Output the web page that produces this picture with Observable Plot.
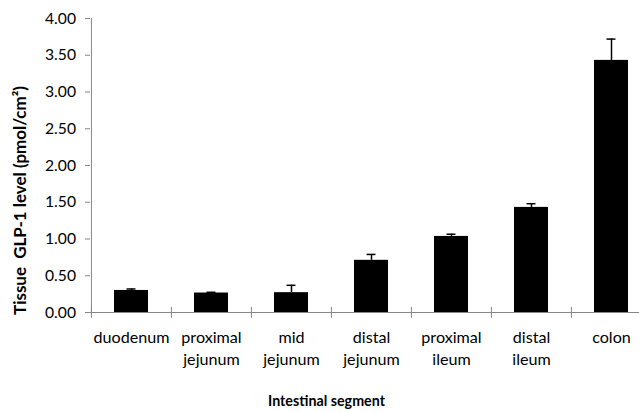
<!DOCTYPE html>
<html>
<head>
<meta charset="utf-8">
<script src="https://cdn.jsdelivr.net/npm/d3@7"></script>
<script src="https://cdn.jsdelivr.net/npm/@observablehq/plot@0.6"></script>
<style>
  html, body { margin: 0; padding: 0; background: #fff; }
  #chart svg { display: block; }
</style>
</head>
<body>
<div id="chart"></div>
<script>
const categories = ["duodenum", "proximal jejunum", "mid jejunum", "distal jejunum", "proximal ileum", "distal ileum", "colon"];
const tickLabels = ["duodenum", "proximal\njejunum", "mid\njejunum", "distal\njejunum", "proximal\nileum", "distal\nileum", "colon"];
const values = [0.30, 0.265, 0.27, 0.71, 1.035, 1.43, 3.43];
const errors = [0.02, 0.01, 0.10, 0.08, 0.03, 0.05, 0.29];
const yTicks = [0, 0.5, 1, 1.5, 2, 2.5, 3, 3.5, 4];
const yTitle = "Tissue\u00a0 GLP-1 level (pmol/cm²)";
const xTitle = "Intestinal segment";

const data = categories.map((c, i) => ({cat: c, label: tickLabels[i], value: values[i], err: errors[i], top: values[i] + errors[i]}));

const W = 639, H = 412;
const mL = 90, mT = 18, mB = 100;
const xRange = [90, 651];
const padIn = 0.575;
const step = (xRange[1] - xRange[0]) / categories.length;
const bw = step * (1 - padIn);
const axisColor = "#868686";
const font = "Lato, 'Open Sans', sans-serif";

// pick font sizes so text widths match the reference
const ctx = document.createElement("canvas").getContext("2d");
function sizeFor(text, target, weight) {
  ctx.font = `${weight} 100px ${font}`;
  return target / ctx.measureText(text).width * 100;
}
const tickSize = sizeFor("duodenum", 76, "normal");
const ySize = sizeFor("4.00", 31, "normal");
const xTitleSize = sizeFor(xTitle, 117, "bold");
const yTitleSize = sizeFor(yTitle, 229, "bold");

const plot = Plot.plot({
  width: W,
  height: H,
  marginLeft: mL,
  marginTop: mT,
  marginBottom: mB,
  marginRight: 0,
  style: {fontFamily: font, fontSize: "14px", color: "#000", background: "#fff", overflow: "hidden"},
  x: {domain: categories, range: xRange, paddingInner: padIn, paddingOuter: padIn / 2, axis: null},
  y: {domain: [0, 4], axis: null},
  marks: [
    Plot.barY(data, {x: "cat", y: "value", fill: "#000"}),
    Plot.ruleX(data, {x: "cat", y1: "value", y2: "top", stroke: "#000", strokeWidth: 1.5}),
    Plot.tickY(data, {x: "cat", y: "top", stroke: "#000", strokeWidth: 1.5, insetLeft: (bw - 9) / 2, insetRight: (bw - 9) / 2}),
    // baseline and y axis line
    Plot.ruleY([0], {stroke: axisColor, strokeWidth: 1}),
    Plot.ruleX([categories[0]], {y1: 0, y2: 4, dx: -step / 2, stroke: axisColor, strokeWidth: 1}),
    // category boundary ticks
    Plot.ruleX(categories, {x: d => d, y1: -0.08, y2: 0.07, dx: -step / 2, stroke: axisColor, strokeWidth: 1}),
    Plot.ruleX([categories[categories.length - 1]], {y1: -0.08, y2: 0.07, dx: step / 2, stroke: axisColor, strokeWidth: 1}),
    // y axis
    Plot.axisY({ticks: yTicks, tickFormat: d3.format(".2f"), tickSize: 5, tickPadding: 9.5, stroke: axisColor, label: null, fontSize: ySize, fill: "#000"}),
    // x tick labels
    Plot.text(data, {x: "cat", text: "label", frameAnchor: "bottom", dy: 15, lineAnchor: "top", textAnchor: "middle", lineHeight: 22 / tickSize, fontSize: tickSize, fill: "#000"}),
    // axis titles
    Plot.text([yTitle], {frameAnchor: "left", textAnchor: "middle", dx: -69.5, dy: 35, rotate: -90, fontWeight: "bold", fontSize: yTitleSize, fill: "#000"}),
    Plot.text([xTitle], {frameAnchor: "bottom", textAnchor: "middle", dx: -38.5, dy: 93, fontWeight: "bold", fontSize: xTitleSize, fill: "#000"})
  ]
});
document.getElementById("chart").appendChild(plot);
</script>
</body>
</html>
